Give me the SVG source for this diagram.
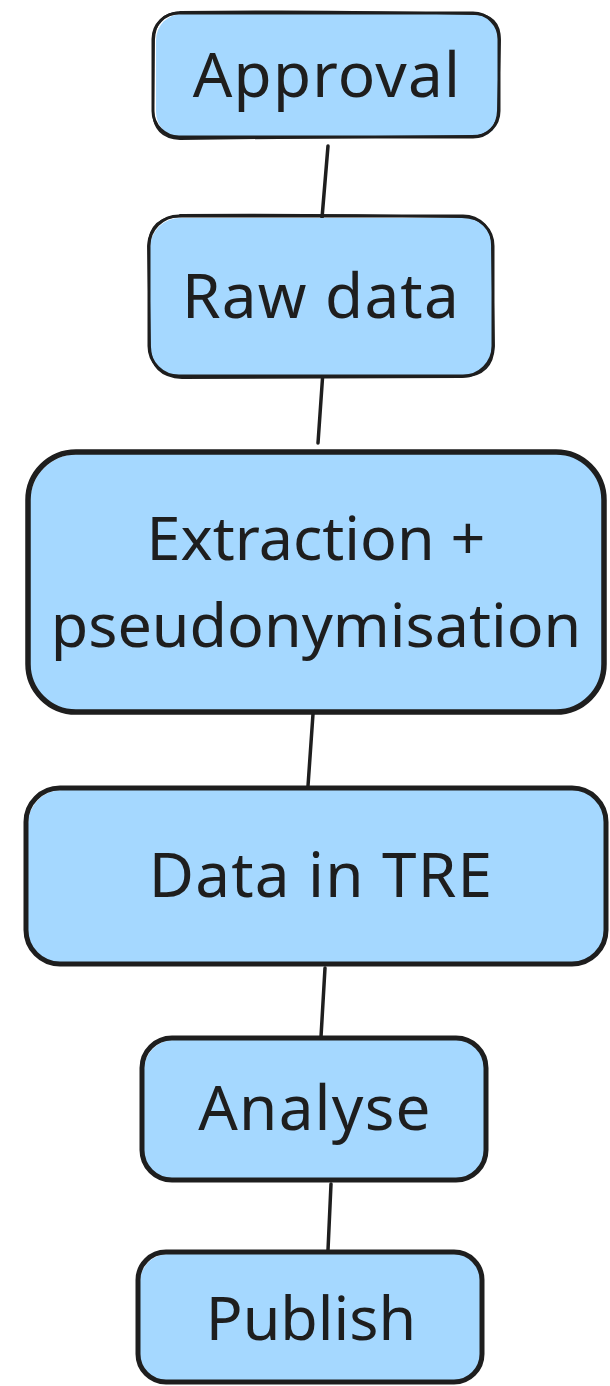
<svg xmlns="http://www.w3.org/2000/svg" width="610" height="1386" viewBox="0 0 610 1386">
<style>
.fill{fill:#a5d8ff;stroke:none}
.s{fill:none;stroke:#1e1e1e;stroke-linecap:round;stroke-linejoin:round}
.t{font-family:"Noto Sans","Open Sans",sans-serif;font-size:61px;fill:#1e1e1e;text-anchor:middle}
.w{font-size:62px;letter-spacing:1.2px}
.c{stroke:#1e1e1e;stroke-width:3.5;stroke-linecap:round;fill:none}
</style>
<rect width="610" height="1386" fill="#ffffff"/>
<g id="connectors">
<line class="c" x1="328" y1="146" x2="322" y2="218"/>
<line class="c" x1="323" y1="371" x2="318" y2="443"/>
<line class="c" x1="313" y1="714" x2="308" y2="786"/>
<line class="c" x1="325" y1="968" x2="321" y2="1037"/>
<line class="c" x1="331" y1="1184" x2="328" y2="1250"/>
</g>
<g id="approval">
<rect class="fill" x="156" y="14" width="344" height="124" rx="26"/>
<rect class="s" x="153" y="13" width="346" height="124" rx="26" stroke-width="3"/>
<path class="s" stroke-width="1.8" d="M180 12 Q330 10 475 14 Q501 15 500 42 L498 110 Q497 136 472 136 L180 139 Q154 138 153 112 L154 40 Q155 13 182 12"/>
<text class="t w" x="327" y="97">Approval</text>
</g>
<g id="raw-data">
<rect class="fill" x="150" y="218" width="344" height="158" rx="30"/>
<rect class="s" x="149" y="216" width="344" height="160" rx="30" stroke-width="3"/>
<path class="s" stroke-width="1.8" d="M180 215 Q320 214 462 217 Q493 218 492 248 L494 346 Q493 376 462 377 L182 378 Q151 377 150 346 L148 246 Q150 216 182 216"/>
<text class="t w" x="321" y="318">Raw data</text>
</g>
<g id="extraction">
<rect class="fill" x="30" y="454" width="574" height="258" rx="48"/>
<rect class="s" x="28" y="452" width="576" height="260" rx="48" stroke-width="5.5"/>
<text class="t" x="316" y="560">Extraction +</text>
<text class="t" x="316" y="647" font-size="60">pseudonymisation</text>
</g>
<g id="data-in-tre">
<rect class="fill" x="28" y="790" width="578" height="174" rx="34"/>
<rect class="s" x="26" y="788" width="580" height="176" rx="34" stroke-width="5"/>
<text class="t w" x="321" y="897" letter-spacing="1.5">Data in TRE</text>
</g>
<g id="analyse">
<rect class="fill" x="144" y="1040" width="342" height="140" rx="30"/>
<rect class="s" x="142" y="1038" width="344" height="142" rx="30" stroke-width="5"/>
<text class="t w" x="315" y="1130">Analyse</text>
</g>
<g id="publish">
<rect class="fill" x="140" y="1254" width="342" height="128" rx="28"/>
<rect class="s" x="138" y="1252" width="344" height="130" rx="28" stroke-width="5"/>
<text class="t" x="311" y="1340">Publish</text>
</g>
</svg>
